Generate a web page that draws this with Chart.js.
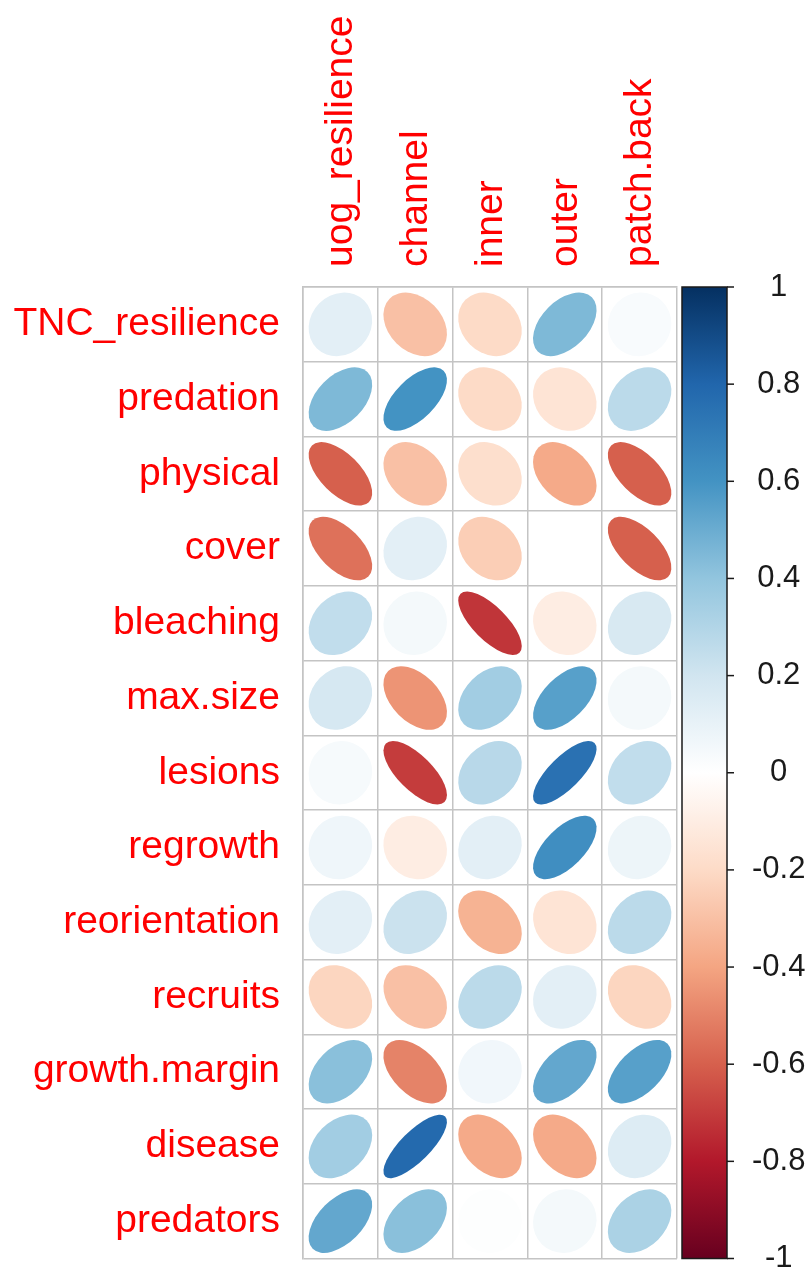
<!DOCTYPE html>
<html>
<head>
<meta charset="utf-8">
<script src="https://cdn.jsdelivr.net/npm/chart.js@4/dist/chart.umd.min.js"></script>
<style>
  html, body { margin: 0; padding: 0; background: #ffffff; }
  #c { display: block; }
</style>
</head>
<body>
<canvas id="c" width="810" height="1278"></canvas>
<script>
// Variables compared (columns) and indicators (rows)
const columns = ['uog_resilience', 'channel', 'inner', 'outer', 'patch.back'];
const rows = ['TNC_resilience', 'predation', 'physical', 'cover', 'bleaching', 'max.size',
  'lesions', 'regrowth', 'reorientation', 'recruits', 'growth.margin', 'disease', 'predators'];

// Correlation coefficients, one array per column, in row order
const uogResilience = [0.12, 0.45, -0.60, -0.55, 0.25, 0.18, 0.04, 0.07, 0.12, -0.22, 0.42, 0.35, 0.52];
const channel       = [-0.30, 0.60, -0.30, 0.12, 0.05, -0.45, -0.70, -0.10, 0.22, -0.30, -0.50, 0.78, 0.42];
const inner         = [-0.20, -0.20, -0.18, -0.25, -0.72, 0.35, 0.28, 0.12, -0.35, 0.27, 0.06, -0.38, 0.01];
const outer         = [0.45, -0.15, -0.38, 0.00, -0.10, 0.55, 0.75, 0.62, -0.15, 0.12, 0.52, -0.38, 0.05];
const patchBack     = [0.03, 0.27, -0.60, -0.60, 0.17, 0.05, 0.25, 0.08, 0.27, -0.22, 0.55, 0.15, 0.32];

// Colour legend tick values
const legendTicks = [1, 0.8, 0.6, 0.4, 0.2, 0, -0.2, -0.4, -0.6, -0.8, -1];

// Diverging red-blue palette from -1 to 1
const palette = ['#67001F', '#B2182B', '#D6604D', '#F4A582', '#FDDBC7', '#FFFFFF',
  '#D1E5F0', '#92C5DE', '#4393C3', '#2166AC', '#053061'];

const columnValues = [uogResilience, channel, inner, outer, patchBack];

function hexToRgb(h) {
  return [parseInt(h.slice(1, 3), 16), parseInt(h.slice(3, 5), 16), parseInt(h.slice(5, 7), 16)];
}
function rampColor(v) {
  const t = (Math.max(-1, Math.min(1, v)) + 1) / 2 * (palette.length - 1);
  const i = Math.min(Math.floor(t), palette.length - 2);
  const f = t - i;
  const a = hexToRgb(palette[i]), b = hexToRgb(palette[i + 1]);
  const c = a.map((av, k) => Math.round(av + (b[k] - av) * f));
  return `rgb(${c[0]},${c[1]},${c[2]})`;
}

const points = [];
columns.forEach((col, ci) => {
  rows.forEach((row, ri) => {
    points.push({ x: col, y: row, v: columnValues[ci][ri] });
  });
});

// Each coefficient is an ellipse whose eccentricity and tilt follow its sign and size
const ellipsePlugin = {
  id: 'corrEllipses',
  afterDatasetsDraw(chart) {
    const { ctx, scales: { x, y } } = chart;
    const cw = Math.abs(x.getPixelForValue(1) - x.getPixelForValue(0));
    const ch = Math.abs(y.getPixelForValue(1) - y.getPixelForValue(0));
    const cell = (cw + ch) / 2;
    const meta = chart.getDatasetMeta(0);
    const data = chart.data.datasets[0].data;
    meta.data.forEach((pt, i) => {
      const v = data[i].v;
      const half = Math.acos(Math.max(-1, Math.min(1, v))) / 2;
      const rDiag = 0.85 * Math.cos(half) / Math.SQRT2 * cell;
      const rAnti = 0.85 * Math.sin(half) / Math.SQRT2 * cell;
      ctx.save();
      ctx.beginPath();
      ctx.ellipse(pt.x, pt.y, Math.max(rDiag, 0.01), Math.max(rAnti, 0.01), -Math.PI / 4, 0, Math.PI * 2);
      ctx.fillStyle = rampColor(v);
      ctx.fill();
      ctx.restore();
    });
  }
};

// Colour legend bar drawn along the right-hand scale
const legendPlugin = {
  id: 'colourLegend',
  afterDraw(chart) {
    const { ctx } = chart;
    const s = chart.scales.cb;
    const top = s.getPixelForValue(1);
    const bottom = s.getPixelForValue(-1);
    const x0 = s.left + 5;
    const w = 45;
    const grad = ctx.createLinearGradient(0, bottom, 0, top);
    palette.forEach((c, i) => grad.addColorStop(i / (palette.length - 1), c));
    ctx.save();
    ctx.fillStyle = grad;
    ctx.fillRect(x0, top, w, bottom - top);
    ctx.strokeStyle = '#1a1a1a';
    ctx.lineWidth = 1.5;
    ctx.strokeRect(x0, top, w, bottom - top);
    s.ticks.forEach(t => {
      const py = s.getPixelForValue(t.value);
      ctx.beginPath();
      ctx.moveTo(x0 + w, py);
      ctx.lineTo(x0 + w + 7, py);
      ctx.stroke();
    });
    ctx.restore();
  }
};

const labelFont = { family: "'Liberation Sans', Arial, sans-serif", size: 39, lineHeight: 1 };
const gridColor = '#c4c4c4';
const clear = 'rgba(0,0,0,0)';

new Chart(document.getElementById('c'), {
  type: 'scatter',
  data: {
    datasets: [{
      data: points,
      pointRadius: 0,
      pointHoverRadius: 0,
      showLine: false
    }]
  },
  options: {
    responsive: false,
    animation: false,
    devicePixelRatio: 1,
    layout: { padding: { left: 0, right: 0, top: 0, bottom: 18 } },
    plugins: { legend: { display: false }, tooltip: { enabled: false } },
    scales: {
      x: {
        type: 'category',
        labels: columns,
        position: 'top',
        offset: true,
        grid: { offset: true, color: gridColor, lineWidth: 1.5, drawTicks: true, tickLength: 20, tickColor: clear },
        border: { display: true, color: gridColor, width: 1.5 },
        ticks: {
          color: '#ff0000', font: labelFont, padding: 0, labelOffset: 40,
          minRotation: 90, maxRotation: 90, autoSkip: false
        },
        afterFit(scale) { scale.height = 287; }
      },
      y: {
        type: 'category',
        labels: rows,
        position: 'left',
        offset: true,
        grid: { offset: true, color: gridColor, lineWidth: 1.5, drawTicks: true, tickLength: 23, tickColor: clear },
        border: { display: true, color: gridColor, width: 1.5 },
        ticks: { color: '#ff0000', font: labelFont, padding: 0, autoSkip: false },
        afterFit(scale) { scale.width = 303; }
      },
      cb: {
        type: 'linear',
        position: 'right',
        min: -1,
        max: 1,
        grid: { display: true, drawOnChartArea: false, drawTicks: true, tickLength: 75, tickColor: clear, color: clear },
        border: { display: false },
        afterBuildTicks(scale) {
          scale.ticks = legendTicks.map(v => ({ value: v }));
        },
        ticks: {
          color: '#1a1a1a',
          font: { family: "'Liberation Sans', Arial, sans-serif", size: 31, lineHeight: 1 },
          padding: 0,
          crossAlign: 'center',
          callback: v => String(Math.round(v * 10) / 10)
        },
        afterFit(scale) { scale.width = 133; }
      }
    }
  },
  plugins: [ellipsePlugin, legendPlugin]
});
</script>
</body>
</html>
